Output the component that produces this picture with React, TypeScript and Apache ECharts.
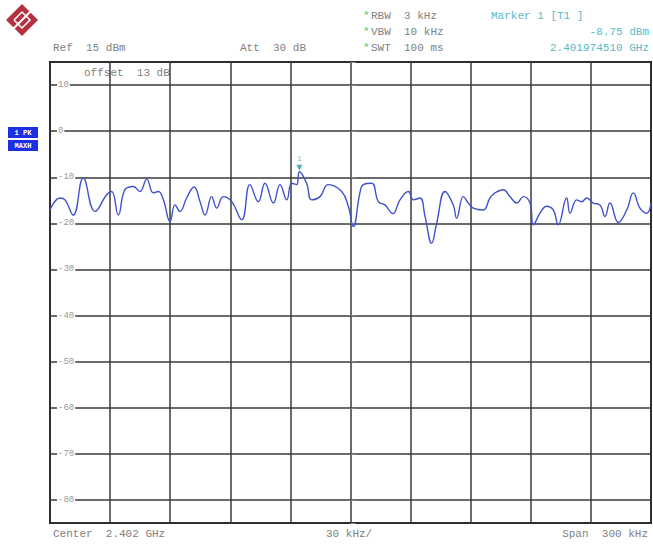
import React, { useEffect, useRef } from "react";
import * as echarts from "echarts";

// Frequency offset from center (kHz), center = 2.402 GHz, span 300 kHz
const freqOffsetKHz = [
  -150, -145, -142.5, -138.4, -133.4, -127.5, -121.7, -119.2, -115.9, -112.6,
  -108.4, -105.1, -101.7, -98.4, -95.9, -93.4, -90.1, -87.6, -85.1, -81.8,
  -78.1, -75.1, -72.6, -69.3, -66.8, -63.5, -59.3, -54.3, -50.2, -46,
  -42.7, -38.5, -35.2, -31.8, -29.4, -26.9, -25.5, -21.9, -19.4, -15.2,
  -11.1, -4.4, -1.1, 1.4, 4.7, 6.4, 10.6, 13.9, 17.2, 21.1,
  24.7, 28.9, 31.4, 34.7, 37.2, 40.5, 43, 47.2, 51.3, 53,
  56.3, 58.8, 61.3, 66.3, 69.6, 72.1, 76.3, 79.6, 83, 86.3,
  89.6, 91.3, 94.6, 97.9, 101.2, 103.7, 107.9, 109.6, 112.9, 115.4,
  117.9, 121.2, 124.5, 127, 129.5, 133.7, 137.9, 141.2, 144.5, 147.9,
  150,
];

// Trace level (dBm)
const levelDbm = [
  -17.1, -14.5, -14.9, -18.2, -10.2, -17.4, -13.8, -13.1, -18.2, -12.7,
  -12.0, -13.1, -10.4, -13.4, -13.1, -14.9, -19.6, -16.0, -17.4, -14.5,
  -12.1, -15.3, -18.2, -14.2, -16.7, -14.2, -15.3, -19.2, -11.6, -15.3,
  -11.3, -15.6, -11.6, -14.9, -11.3, -11.6, -8.8, -11.3, -14.9, -14.2,
  -11.6, -13.1, -16.3, -20.7, -13.4, -11.6, -11.3, -15.3, -16.0, -17.9,
  -14.9, -13.1, -14.9, -14.5, -18.5, -24.3, -20.0, -13.1, -16.0, -18.9,
  -14.2, -15.6, -16.7, -17.1, -14.5, -13.4, -12.7, -14.2, -15.6, -14.2,
  -15.6, -20.3, -17.8, -16.3, -17.1, -20.3, -14.5, -17.8, -14.9, -15.3,
  -14.5, -15.6, -16.0, -18.5, -15.6, -19.8, -17.1, -13.4, -16.7, -17.8,
  -15.6,
];

const markerFreq = [-25.5];
const markerLevel = [-8.8];

const yTickLabels = [10, 0, -10, -20, -30, -40, -50, -60, -70, -80];

const MONO = "'Liberation Mono', 'DejaVu Sans Mono', monospace";

export default function App() {
  const ref = useRef<HTMLDivElement>(null);

  useEffect(() => {
    if (!ref.current) return;
    const chart = echarts.init(ref.current, null, { renderer: "svg" });
    const gray = "#808080";
    const teal = "#5ab8c8";
    const hdr = (text: string, x: number, y: number, color = gray, align = "left", size = 11) => ({
      type: "text",
      x,
      y,
      style: {
        text,
        fill: color,
        font: `${size}px ${MONO}`,
        textAlign: align,
        textVerticalAlign: "middle",
      },
    });

    chart.setOption({
      animation: false,
      backgroundColor: "#fff",
      grid: {
        left: 50,
        top: 62,
        right: 2,
        bottom: 21,
        show: true,
        borderColor: "#111",
        borderWidth: 2,
        backgroundColor: "transparent",
      },
      xAxis: {
        type: "value",
        min: -150,
        max: 150,
        interval: 30,
        axisLine: { show: false },
        axisTick: { show: false },
        axisLabel: { show: false },
        splitLine: { show: true, lineStyle: { color: "#3a3a3a", width: 1.5 } },
      },
      yAxis: {
        type: "value",
        min: -85,
        max: 15,
        splitNumber: 10,
        axisLine: { show: false },
        axisTick: {
          show: true,
          inside: true,
          length: 5,
          lineStyle: { color: "#888", width: 1 },
        },
        axisLabel: {
          show: true,
          inside: true,
          margin: 7,
          color: "#999",
          fontSize: 9,
          fontFamily: MONO,
          backgroundColor: "#fff",
          padding: [0, 1],
          formatter: (v: number) => (yTickLabels.indexOf(v) >= 0 ? String(v) : ""),
        },
        splitLine: { show: true, lineStyle: { color: "#3a3a3a", width: 1.5 } },
      },
      series: [
        {
          type: "line",
          data: freqOffsetKHz.map((f, i) => [f, levelDbm[i]]),
          showSymbol: false,
          smooth: 0.45,
          lineStyle: { color: "#3f52cc", width: 1.4 },
          z: 5,
        },
        {
          type: "scatter",
          data: markerFreq.map((f, i) => [f, markerLevel[i]]),
          symbol: "triangle",
          symbolRotate: 180,
          symbolSize: 6,
          symbolOffset: [0, -4],
          itemStyle: { color: "#2a9aa8" },
          label: {
            show: true,
            position: "top",
            distance: 2,
            formatter: "1",
            color: "#7ab",
            fontSize: 8,
            fontFamily: MONO,
          },
          z: 6,
        },
      ],
      graphic: [
        // R&S style logo
        {
          type: "polygon",
          shape: { points: [[22, 4], [38, 20], [22, 36], [6, 20]] },
          style: { fill: "#b3303f" },
        },
        {
          type: "polyline",
          shape: { points: [[14, 20], [22, 12], [30, 20], [22, 28], [14, 20]] },
          style: { stroke: "#fff", lineWidth: 1.5, fill: null },
        },
        {
          type: "line",
          shape: { x1: 13, y1: 29, x2: 31, y2: 11 },
          style: { stroke: "#fff", lineWidth: 2 },
        },
        hdr("Ref  15 dBm", 53, 48),
        hdr("Att  30 dB", 240, 48),
        hdr("*", 363, 16, "#5c5"),
        hdr("*", 363, 32, "#5c5"),
        hdr("*", 363, 48, "#5c5"),
        hdr("RBW  3 kHz", 371, 16),
        hdr("VBW  10 kHz", 371, 32),
        hdr("SWT  100 ms", 371, 48),
        hdr("Marker 1 [T1 ]", 491, 16, teal),
        hdr("-8.75 dBm", 649, 32, teal, "right"),
        hdr("2.401974510 GHz", 649, 48, teal, "right"),
        hdr("offset  13 dB", 84, 73, gray),
        hdr("Center  2.402 GHz", 53, 534),
        hdr("30 kHz/", 326, 534),
        hdr("Span  300 kHz", 648, 534, gray, "right"),
        // trace info boxes
        {
          type: "rect",
          shape: { x: 8, y: 127, width: 30, height: 11 },
          style: { fill: "#1d2fe0" },
        },
        {
          type: "rect",
          shape: { x: 8, y: 140, width: 30, height: 11 },
          style: { fill: "#1d2fe0" },
        },
        {
          type: "text",
          x: 23,
          y: 132.5,
          style: { text: "1 PK", fill: "#fff", font: `bold 7px ${MONO}`, textAlign: "center", textVerticalAlign: "middle" },
        },
        {
          type: "text",
          x: 23,
          y: 145.5,
          style: { text: "MAXH", fill: "#fff", font: `bold 7px ${MONO}`, textAlign: "center", textVerticalAlign: "middle" },
        },
      ],
    });
    return () => chart.dispose();
  }, []);

  return (
    <div
      ref={ref}
      style={{ position: "absolute", left: 0, top: 0, width: 653, height: 544 }}
    />
  );
}
